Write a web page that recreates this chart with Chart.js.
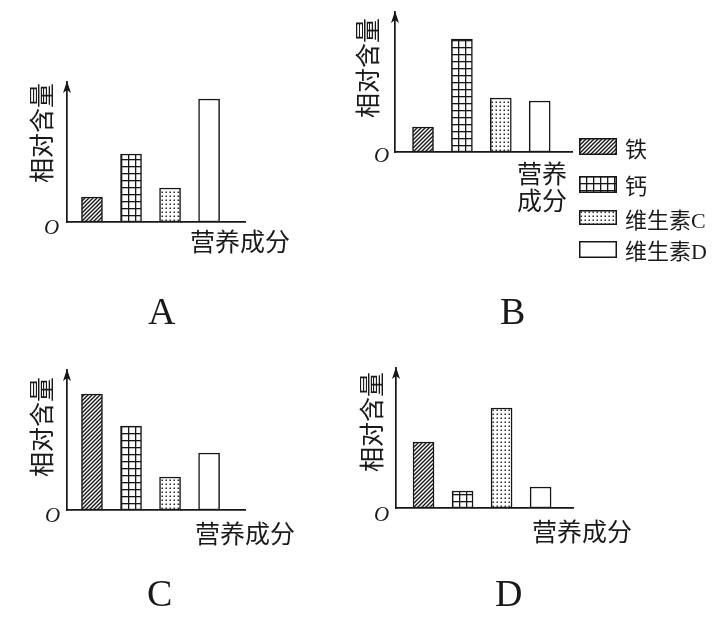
<!DOCTYPE html>
<html><head><meta charset="utf-8">
<script src="https://cdn.jsdelivr.net/npm/chart.js@4"></script>
<style>
html,body{margin:0;padding:0;background:#fff;}
#wrap{position:relative;width:727px;height:619px;overflow:hidden;background:#fff;}
canvas.ch{position:absolute;left:0;top:0;}
canvas.sw{position:absolute;}
.t{position:absolute;white-space:nowrap;color:#1a1a1a;font-family:"Noto Sans CJK SC",sans-serif;line-height:1;}
.yt{font-size:25px;transform-origin:0 0;transform:rotate(-90deg);}
.xt{font-size:25px;}
.o{font-family:"Liberation Serif",serif;font-style:italic;font-size:21px;}
.p{font-family:"Liberation Serif",serif;font-size:38px;}
.lg{font-size:22px;}
.lg span{font-family:"Liberation Serif",serif;}
</style>
</head><body>
<div id="wrap"></div>
<script>
// ---- data ----
const categories = ['铁', '钙', '维生素C', '维生素D'];
const panelNames = ['A', 'B', 'C', 'D'];
const valuesA = [25, 68, 34, 123];
const valuesB = [25, 113, 54, 51];
const valuesC = [116, 84, 33, 57];
const valuesD = [66, 17, 100, 21];
const yAxisTitle = '相对含量';
const xAxisTitle = '营养成分';
const originLabel = 'O';

const W = 727, H = 619;
const wrap = document.getElementById('wrap');
const INK = '#161616';

function makeTile(w, h, draw) {
  const c = document.createElement('canvas');
  c.width = w; c.height = h;
  const g = c.getContext('2d');
  g.fillStyle = '#fff'; g.fillRect(0, 0, w, h);
  draw(g, w, h);
  return c;
}
const hatchTile = makeTile(4, 4, g => {
  g.strokeStyle = INK; g.lineWidth = 1.4; g.beginPath();
  g.moveTo(-1, 5); g.lineTo(5, -1);
  g.moveTo(-3, 3); g.lineTo(3, -3);
  g.moveTo(1, 7); g.lineTo(7, 1);
  g.stroke();
});
const gridTile = makeTile(7, 7, g => {
  g.fillStyle = INK; g.fillRect(0, 0, 7, 1.3); g.fillRect(0, 0, 1.3, 7);
});
const dotTile = makeTile(4, 4, g => {
  g.fillStyle = '#2a2a2a'; g.fillRect(1.5, 1.5, 1.5, 1.5);
});
const tiles = [hatchTile, gridTile, dotTile, null];

function makePatterns(ctx) {
  return tiles.map(t => t ? ctx.createPattern(t, 'repeat') : '#ffffff');
}

const panels = [
  {values: valuesA, area: {l: 67, t: 82, r: 245, b: 222}, xmin: 0.36, xmax: 4.92},
  {values: valuesB, area: {l: 395, t: 12, r: 572, b: 152}, xmin: 0.28, xmax: 4.83},
  {values: valuesC, area: {l: 67, t: 370, r: 245, b: 510}, xmin: 0.36, xmax: 4.92},
  {values: valuesD, area: {l: 396, t: 368, r: 573, b: 508}, xmin: 0.295, xmax: 4.83}
];

const arrowPlugin = {
  id: 'arrowAndAlign',
  beforeDatasetsDraw(chart) {
    const meta = chart.getDatasetMeta(0);
    const bg = chart.data.datasets[0].backgroundColor;
    meta.data.forEach((el, i) => {
      const p = bg[i];
      if (p && typeof p === 'object' && p.setTransform) {
        const {x, width, base} = el.getProps(['x', 'width', 'base'], true);
        p.setTransform(new DOMMatrix().translate(Math.round(x - width / 2), Math.round(base)));
      }
    });
  },
  afterDraw(chart) {
    const {ctx, chartArea} = chart;
    const x = chartArea.left, y = chartArea.top;
    ctx.save();
    ctx.fillStyle = INK;
    ctx.beginPath();
    ctx.moveTo(x, y - 1);
    ctx.lineTo(x - 4, y + 11);
    ctx.lineTo(x, y + 8);
    ctx.lineTo(x + 4, y + 11);
    ctx.closePath();
    ctx.fill();
    ctx.restore();
  }
};

panels.forEach((pn, idx) => {
  const cv = document.createElement('canvas');
  cv.className = 'ch'; cv.width = W; cv.height = H;
  cv.style.width = W + 'px'; cv.style.height = H + 'px';
  wrap.appendChild(cv);
  const ctx = cv.getContext('2d');
  const pats = makePatterns(ctx);
  const axisBorder = {display: true, color: INK, width: 1.7};
  new Chart(ctx, {
    type: 'bar',
    data: {
      datasets: [{
        label: panelNames[idx],
        data: pn.values.map((v, i) => ({x: i + 1, y: v})),
        backgroundColor: pats,
        borderColor: INK,
        borderWidth: 1.5,
        borderSkipped: false,
        barThickness: 21
      }]
    },
    options: {
      responsive: false,
      animation: false,
      events: [],
      layout: {padding: {left: pn.area.l, top: pn.area.t, right: W - pn.area.r, bottom: H - pn.area.b}},
      plugins: {legend: {display: false}, tooltip: {enabled: false}, title: {display: false}},
      scales: {
        x: {type: 'linear', offset: false, min: pn.xmin, max: pn.xmax, grid: {display: false, drawTicks: false, offset: false},
            ticks: {display: false}, border: axisBorder, afterFit(s) { s.height = 0; }},
        y: {type: 'linear', min: 0, max: 140, grid: {display: false, drawTicks: false},
            ticks: {display: false}, border: axisBorder, afterFit(s) { s.width = 0; }}
      }
    },
    plugins: [arrowPlugin]
  });
});

// ---- text ----
function addText(cls, html, left, top) {
  const d = document.createElement('div');
  d.className = 't ' + cls;
  d.innerHTML = html;
  d.style.left = left + 'px'; d.style.top = top + 'px';
  wrap.appendChild(d);
  return d;
}
// y titles (rotated); top = lower end of text
[[28, 183], [354, 118], [28, 477], [358, 472]].forEach(p => addText('yt', yAxisTitle, p[0], p[1]));
// x titles
addText('xt', xAxisTitle, 190, 228);
addText('xt', xAxisTitle, 195, 520);
addText('xt', xAxisTitle, 532, 518);
const bx = addText('xt', xAxisTitle.slice(0, 2) + '<br>' + xAxisTitle.slice(2), 517, 159);
bx.style.lineHeight = '27px';
// origins
[[44, 217], [374, 145], [45, 505], [374, 504]].forEach(p => addText('o', originLabel, p[0], p[1]));
// panel letters
[[148, 292], [500, 292], [147, 574], [495, 574]].forEach((p, i) => addText('p', panelNames[i], p[0], p[1]));

// ---- legend ----
const legendRows = [
  {y: 138, h: 17, ty: 136},
  {y: 176, h: 17, ty: 173},
  {y: 210, h: 15, ty: 207},
  {y: 241, h: 17, ty: 238}
];
categories.forEach((name, i) => {
  const r = legendRows[i];
  const c = document.createElement('canvas');
  c.className = 'sw'; c.width = 38; c.height = r.h;
  c.style.left = '579px'; c.style.top = r.y + 'px';
  wrap.appendChild(c);
  const g = c.getContext('2d');
  g.fillStyle = tiles[i] ? g.createPattern(tiles[i], 'repeat') : '#fff';
  g.fillRect(0, 0, 38, r.h);
  g.strokeStyle = INK; g.lineWidth = 1.5;
  g.strokeRect(0.75, 0.75, 38 - 1.5, r.h - 1.5);
  const html = name.replace(/([A-Z])$/, '<span>$1</span>');
  addText('lg', html, 625, r.ty);
});
</script>
</body></html>
